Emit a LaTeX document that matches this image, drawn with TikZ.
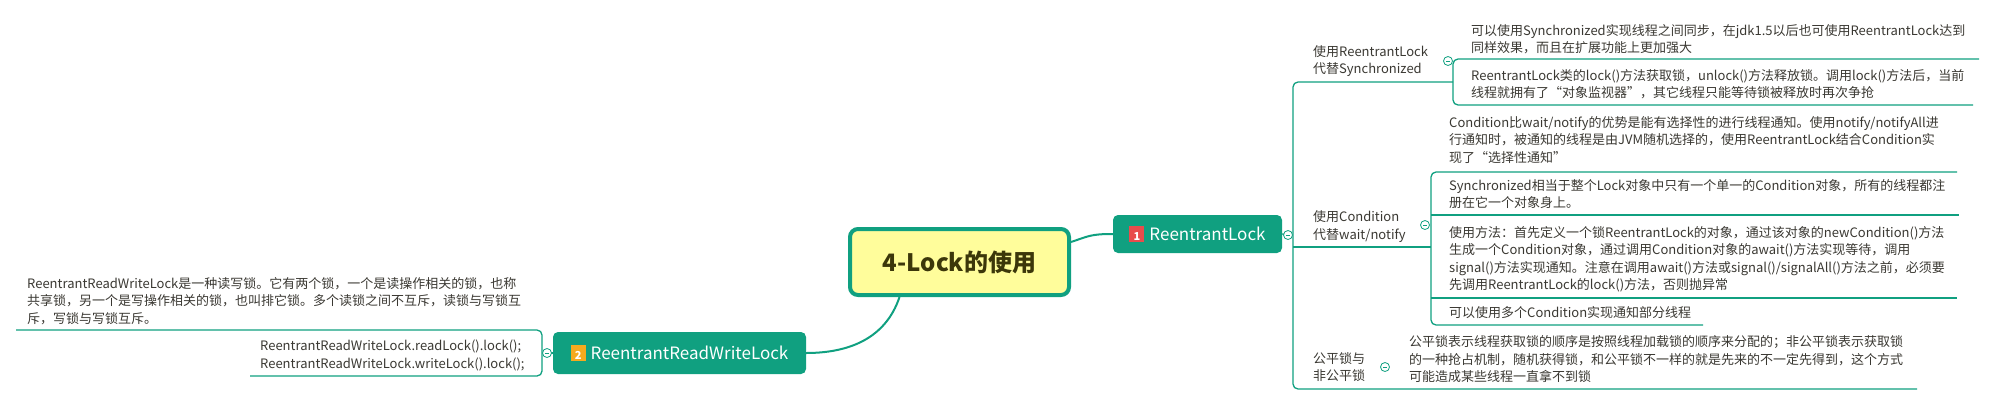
\documentclass[tikz,border=0pt]{standalone}
\usepackage{fontspec}
\setmainfont{Noto Sans CJK SC}
\definecolor{teal0}{RGB}{16,160,128}
\definecolor{rootfill}{RGB}{255,253,155}
\definecolor{txt}{RGB}{58,56,50}
\definecolor{titletxt}{RGB}{60,55,10}
\definecolor{badgered}{RGB}{232,76,76}
\definecolor{badgeorange}{RGB}{245,170,30}
\newcommand{\mybadge}[2]{{\setlength{\fboxsep}{2pt}\colorbox{#1}{\rule{0pt}{12pt}\makebox[11pt]{\fontsize{11}{11}\selectfont\bfseries\color{white}#2}}}}
\begin{document}
\begin{tikzpicture}[x=1pt, y=-1pt,
  ln/.style={draw=teal0, line width=1.3pt},
  lnthick/.style={draw=teal0, line width=2pt},
  txtnode/.style={anchor=west, inner sep=0pt, align=left, text=txt, font=\fontsize{13}{17.5}\selectfont},
  topic/.style={fill=teal0, rounded corners=5pt, text=white, inner sep=0pt, font=\fontsize{17}{17}\selectfont},
  rootbox/.style={fill=rootfill, draw=teal0, line width=4pt, rounded corners=8pt, text=titletxt, inner sep=0pt, font=\fontsize{24}{24}\selectfont\bfseries, minimum width=219pt, minimum height=66pt},
  collapse/.style={circle, draw=teal0, fill=white, line width=0.8pt, minimum size=9pt, inner sep=0pt,
    path picture={\draw[teal0, line width=0.7pt] ([xshift=-2.2pt]path picture bounding box.center) -- ([xshift=2.2pt]path picture bounding box.center);}}
]
\useasboundingbox (0,0) rectangle (1995,405);

% main nodes
\node[rootbox] (root) at (959.5,262) {4-Lock的使用};
\node[topic, minimum width=169pt, minimum height=38pt] (rl) at (1197.5,234) {\mybadge{badgered}{1}\hspace{5pt}ReentrantLock};
\node[topic, minimum width=253pt, minimum height=42pt] (rrwl) at (679.5,353) {\mybadge{badgeorange}{2}\hspace{5pt}ReentrantReadWriteLock};

% labels
\node[txtnode] (l1) at (1313,61) {使用ReentrantLock\\代替Synchronized};
\node[txtnode] (l2) at (1313,226.5) {使用Condition\\代替wait/notify};
\node[txtnode] (l3) at (1313,367) {公平锁与\\非公平锁};

% leaf texts
\node[txtnode] (t1) at (1471,39) {可以使用Synchronized实现线程之间同步，在jdk1.5以后也可使用ReentrantLock达到\\同样效果，而且在扩展功能上更加强大};
\node[txtnode] (t2) at (1471,84) {ReentrantLock类的lock()方法获取锁，unlock()方法释放锁。调用lock()方法后，当前\\线程就拥有了“对象监视器”，其它线程只能等待锁被释放时再次争抢};
\node[txtnode] (t3) at (1449,140) {Condition比wait/notify的优势是能有选择性的进行线程通知。使用notify/notifyAll进\\行通知时，被通知的线程是由JVM随机选择的，使用ReentrantLock结合Condition实\\现了“选择性通知”};
\node[txtnode] (t4) at (1449,194) {Synchronized相当于整个Lock对象中只有一个单一的Condition对象，所有的线程都注\\册在它一个对象身上。};
\node[txtnode] (t5) at (1449,259.5) {使用方法：首先定义一个锁ReentrantLock的对象，通过该对象的newCondition()方法\\生成一个Condition对象，通过调用Condition对象的await()方法实现等待，调用\\signal()方法实现通知。注意在调用await()方法或signal()/signalAll()方法之前，必须要\\先调用ReentrantLock的lock()方法，否则抛异常};
\node[txtnode] (t6) at (1449,313) {可以使用多个Condition实现通知部分线程};
\node[txtnode] (t7) at (1409,359.5) {公平锁表示线程获取锁的顺序是按照线程加载锁的顺序来分配的；非公平锁表示获取锁\\的一种抢占机制，随机获得锁，和公平锁不一样的就是先来的不一定先得到，这个方式\\可能造成某些线程一直拿不到锁};
\node[txtnode] (t8) at (27,301) {ReentrantReadWriteLock是一种读写锁。它有两个锁，一个是读操作相关的锁，也称\\共享锁，另一个是写操作相关的锁，也叫排它锁。多个读锁之间不互斥，读锁与写锁互\\斥，写锁与写锁互斥。};
\node[txtnode] (t9) at (260,355.5) {ReentrantReadWriteLock.readLock().lock();\\ReentrantReadWriteLock.writeLock().lock();};

% bracket coordinates
\coordinate (b0top) at (1293,82);
\coordinate (b0bot) at (1293,389);
\coordinate (b0mid) at (1293,247);
\coordinate (b1top) at (1453,59);
\coordinate (b1bot) at (1453,105);
\coordinate (b1mid) at (1453,82);
\coordinate (b2top) at (1431,172);
\coordinate (b2bot) at (1431,325);
\coordinate (b2a) at (1431,215);
\coordinate (b2b) at (1431,298);
\coordinate (b2mid) at (1431,247);
\coordinate (t1end) at (1979,59);
\coordinate (t2end) at (1973,105);
\coordinate (t3end) at (1957,172);
\coordinate (t4end) at (1959,215);
\coordinate (t5end) at (1957,298);
\coordinate (t6end) at (1703,325);
\coordinate (t7end) at (1917,389);
\coordinate (b4top) at (542,330);
\coordinate (b4bot) at (542,376);
\coordinate (t8end) at (16,330);
\coordinate (t9end) at (250,376);

% connectors from root
\draw[lnthick] ([yshift=20pt]root.east) .. controls +(18,-6) and +(-22,0) .. (rl.west);
\draw[lnthick] ([xshift=-60pt]root.south) .. controls +(-14,42) and +(42,0) .. (rrwl.east);

% right brackets
\draw[ln] (rl.east) -- (1290,235);
\draw[ln, rounded corners=5pt] (b1mid) -- (b0top) -- (b0bot) -- (t7end);
\draw[ln] (b0mid) -- (b2mid);
\draw[ln, rounded corners=5pt] (t1end) -- (b1top) -- (b1bot) -- (t2end);
\draw[ln, rounded corners=5pt] (t3end) -- (b2top) -- (b2bot) -- (t6end);
\draw[ln] (b2a) -- (t4end);
\draw[ln] (b2b) -- (t5end);

% left bracket
\draw[ln] (rrwl.west) -- (546,353);
\draw[ln, rounded corners=5pt] (t8end) -- (b4top) -- (b4bot) -- (t9end);

% collapse markers
\node[collapse] (c0) at (1288,235) {};
\node[collapse] (c1) at (1448,61) {};
\node[collapse] (c2) at (1425,225) {};
\node[collapse] (c3) at (1385,367) {};
\node[collapse] (c4) at (547,353) {};
\end{tikzpicture}
\end{document}
